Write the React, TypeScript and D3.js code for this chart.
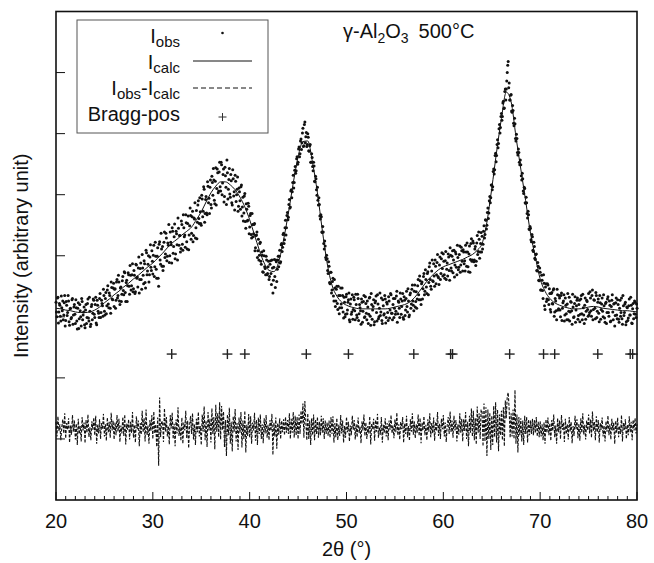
import React from 'react';
import * as d3 from 'd3';

const W = 654;
const H = 563;
const FONT = '"Liberation Sans", Arial, Helvetica, sans-serif';

// x axis
const xDomain = [20, 80];
const xMajorTicks = [20, 30, 40, 50, 60, 70, 80];
const xMinorStep = 1;
// y axis (arbitrary intensity units, unlabeled ticks)
const yDomain = [0, 800];
const yTicks = [100, 200, 300, 400, 500, 600, 700];

// Bragg reflection positions (2θ)
const braggPositions = [31.95, 37.7, 39.5, 45.85, 50.2, 56.95, 60.75, 60.95, 66.85, 70.35, 71.5, 75.95, 79.3, 79.55];
const braggLevel = 239;

// calculated profile, 2θ from 20 step 0.5
const calcStart = 20;
const calcStep = 0.5;
const calcValues = [
  314, 313, 311, 310, 308, 307, 307, 308, 311, 316,
  323, 329, 336, 342, 349, 355, 362, 368, 375, 382,
  388, 396, 404, 413, 421, 427, 434, 440, 447, 459,
  472, 488, 503, 514, 521, 521, 516, 508, 496, 480,
  459, 434, 409, 388, 376, 374, 390, 426, 470, 519,
  562, 587, 588, 552, 503, 442, 388, 352, 334, 324,
  319, 316, 314, 313, 313, 313, 313, 313, 313, 314,
  316, 318, 320, 324, 331, 341, 352, 362, 370, 377,
  382, 385, 388, 391, 394, 398, 402, 409, 420, 455,
  510, 570, 625, 668, 652, 595, 542, 490, 437, 398,
  362, 342, 330, 323, 319, 316, 314, 313, 313, 314,
  316, 317, 316, 314, 313, 312, 311, 310, 310, 309,
  308,
];

// observed intensities, 2θ from 20.00 step 0.1
const obsStart = 20;
const obsStep = 0.1;
const obsValues = [
  324, 300, 332, 308, 319, 293, 315, 326, 303, 335,
  294, 319, 307, 326, 286, 314, 299, 330, 303, 320,
  289, 315, 280, 323, 297, 310, 285, 325, 303, 316,
  282, 320, 299, 329, 293, 309, 288, 320, 306, 327,
  299, 332, 287, 319, 306, 330, 299, 327, 318, 345,
  309, 330, 305, 344, 321, 339, 314, 357, 329, 347,
  317, 346, 327, 361, 335, 357, 320, 349, 337, 366,
  336, 372, 325, 360, 351, 369, 337, 368, 351, 387,
  346, 368, 341, 385, 365, 380, 339, 379, 361, 402,
  368, 392, 356, 409, 369, 386, 357, 398, 381, 408,
  370, 417, 382, 399, 363, 413, 350, 423, 386, 411,
  415, 383, 439, 403, 429, 399, 417, 389, 439, 418,
  446, 404, 431, 395, 440, 418, 462, 417, 433, 412,
  451, 409, 446, 434, 467, 423, 453, 410, 449, 466,
  437, 473, 433, 460, 429, 474, 455, 490, 453, 472,
  450, 493, 473, 509, 469, 497, 467, 514, 494, 512,
  484, 530, 499, 524, 485, 544, 510, 536, 506, 553,
  506, 549, 519, 542, 497, 531, 484, 536, 509, 543,
  496, 523, 483, 526, 505, 532, 489, 509, 473, 511,
  490, 513, 465, 496, 470, 502, 445, 476, 458, 481,
  447, 469, 429, 451, 436, 453, 413, 434, 397, 427,
  401, 422, 386, 401, 373, 400, 379, 399, 369, 382,
  361, 386, 371, 393, 339, 381, 366, 393, 358, 393,
  382, 409, 390, 420, 414, 437, 426, 458, 446, 471,
  463, 492, 480, 508, 505, 532, 520, 546, 539, 562,
  553, 578, 567, 591, 585, 609, 580, 619, 595, 579,
  600, 572, 580, 553, 567, 546, 553, 522, 530, 508,
  512, 483, 484, 460, 464, 438, 439, 411, 416, 394,
  395, 371, 383, 354, 373, 344, 363, 326, 347, 326,
  350, 312, 335, 315, 347, 315, 335, 298, 324, 304,
  337, 311, 328, 295, 321, 304, 336, 312, 328, 295,
  320, 299, 330, 305, 315, 288, 324, 309, 335, 300,
  322, 295, 316, 304, 332, 286, 320, 311, 328, 292,
  326, 307, 336, 297, 314, 302, 331, 289, 318, 305,
  329, 299, 321, 294, 326, 311, 336, 306, 320, 299,
  330, 309, 342, 305, 324, 299, 329, 317, 338, 296,
  327, 311, 342, 308, 326, 303, 339, 321, 352, 319,
  342, 316, 341, 329, 361, 328, 359, 320, 357, 346,
  371, 342, 361, 338, 374, 356, 388, 350, 375, 359,
  387, 350, 383, 369, 402, 364, 385, 361, 395, 379,
  403, 369, 392, 361, 388, 403, 376, 413, 380, 399,
  372, 409, 385, 403, 369, 397, 381, 416, 385, 408,
  375, 406, 392, 417, 383, 406, 374, 416, 394, 428,
  393, 421, 393, 415, 391, 433, 407, 427, 406, 438,
  432, 419, 449, 435, 458, 450, 478, 470, 497, 495,
  516, 513, 542, 541, 568, 564, 590, 584, 615, 610,
  633, 628, 653, 642, 673, 673, 700, 718, 683, 655,
  664, 635, 638, 613, 616, 588, 592, 565, 569, 549,
  549, 524, 526, 502, 510, 486, 487, 462, 467, 443,
  445, 423, 431, 407, 415, 394, 403, 375, 383, 359,
  373, 344, 360, 330, 355, 312, 354, 329, 352, 320,
  338, 308, 340, 321, 346, 308, 326, 295, 336, 313,
  331, 300, 339, 314, 326, 293, 331, 305, 321, 295,
  332, 308, 324, 288, 316, 300, 333, 311, 327, 296,
  320, 292, 329, 305, 337, 303, 319, 296, 327, 312,
  338, 307, 331, 301, 344, 312, 327, 297, 335, 309,
  329, 292, 323, 312, 331, 300, 318, 291, 324, 307,
  333, 301, 319, 293, 327, 308, 321, 285, 323, 303,
  328, 296, 314, 301, 331, 288, 318, 307, 324, 292,
  315, 298, 329, 303, 319, 289, 322, 305, 324, 299,
  314,
];

// observed intensities, interleaved points, 2θ from 20.05 step 0.1
const obsStartB = 20.05;
const obsValuesB = [
  308, 331, 290, 322, 301, 334, 310, 295, 323, 285,
  325, 302, 335, 292, 313, 297, 328, 288, 316, 304,
  328, 293, 314, 281, 320, 300, 330, 295, 308, 287,
  311, 289, 322, 298, 332, 284, 317, 295, 329, 304,
  320, 290, 327, 309, 299, 338, 307, 322, 301, 335,
  303, 340, 318, 351, 315, 335, 306, 348, 328, 355,
  345, 314, 357, 331, 368, 326, 347, 325, 359, 343,
  374, 340, 356, 325, 372, 350, 384, 344, 369, 341,
  376, 338, 386, 363, 349, 398, 361, 388, 345, 380,
  354, 387, 347, 405, 375, 400, 369, 418, 376, 391,
  401, 366, 422, 378, 399, 363, 419, 393, 437, 383,
  376, 422, 397, 437, 392, 421, 451, 400, 422, 388,
  440, 415, 452, 403, 436, 393, 445, 433, 406, 457,
  419, 467, 431, 414, 454, 411, 465, 434, 478, 427,
  464, 423, 462, 487, 446, 428, 483, 461, 495, 453,
  499, 464, 513, 455, 492, 470, 521, 487, 469, 524,
  478, 520, 543, 491, 522, 483, 542, 503, 537, 513,
  553, 500, 533, 488, 545, 512, 557, 493, 525, 501,
  533, 487, 541, 498, 475, 522, 500, 529, 481, 505,
  476, 516, 480, 457, 498, 456, 485, 457, 486, 436,
  466, 435, 469, 431, 451, 408, 433, 439, 408, 393,
  420, 391, 406, 374, 408, 382, 369, 393, 371, 391,
  366, 392, 353, 380, 360, 394, 348, 390, 378, 399,
  399, 388, 418, 407, 435, 420, 446, 434, 466, 459,
  484, 478, 506, 495, 520, 511, 540, 535, 559, 550,
  575, 562, 588, 574, 601, 579, 615, 585, 602, 582,
  594, 571, 582, 553, 561, 539, 547, 521, 526, 499,
  491, 495, 465, 467, 439, 448, 420, 424, 397, 401,
  376, 390, 356, 373, 339, 358, 334, 361, 317, 345,
  322, 350, 305, 335, 321, 347, 308, 332, 300, 333,
  305, 324, 339, 292, 329, 308, 296, 332, 310, 337,
  303, 337, 294, 320, 310, 329, 291, 325, 299, 333,
  306, 326, 289, 331, 301, 338, 296, 317, 287, 323,
  334, 293, 321, 300, 339, 308, 294, 328, 303, 335,
  290, 324, 307, 333, 298, 338, 306, 295, 330, 314,
  304, 334, 291, 326, 314, 339, 304, 326, 299, 333,
  302, 330, 317, 346, 300, 336, 314, 345, 326, 310,
  352, 325, 314, 351, 336, 367, 328, 354, 329, 366,
  336, 377, 349, 371, 336, 382, 361, 345, 393, 358,
  367, 393, 354, 389, 366, 353, 398, 371, 405, 367,
  391, 363, 407, 378, 367, 398, 360, 401, 375, 408,
  393, 365, 406, 381, 417, 377, 402, 373, 414, 391,
  410, 387, 375, 406, 421, 382, 403, 373, 420, 391,
  424, 390, 411, 384, 421, 402, 439, 396, 420, 406,
  411, 440, 429, 459, 444, 471, 461, 490, 487, 516,
  508, 538, 534, 564, 554, 582, 577, 608, 601, 628,
  622, 650, 641, 669, 655, 686, 712, 675, 655, 663,
  637, 646, 617, 625, 592, 599, 569, 575, 553, 557,
  531, 535, 506, 512, 487, 496, 469, 473, 444, 448,
  426, 435, 409, 422, 396, 402, 376, 389, 360, 380,
  344, 368, 343, 369, 318, 349, 325, 354, 328, 346,
  312, 338, 322, 344, 301, 330, 310, 345, 311, 335,
  311, 335, 294, 323, 336, 303, 319, 295, 338, 309,
  293, 325, 310, 337, 299, 322, 291, 318, 331, 302,
  327, 304, 335, 295, 315, 289, 331, 309, 325, 301,
  303, 341, 310, 335, 295, 328, 314, 340, 299, 324,
  306, 335, 296, 321, 309, 336, 298, 322, 289, 329,
  307, 326, 292, 317, 336, 295, 322, 302, 331, 297,
  320, 291, 327, 307, 297, 335, 302, 321, 287, 316,
  294, 318, 303, 332, 290, 313, 297, 326, 304, 321,
];

// difference Iobs - Icalc, 2θ from 20 step 0.1, drawn around diffOffset
const diffOffset = 118;
const diffValues = [
  10, -14, 19, -5, 6, -20, 2, 14, -9, 24,
  -17, 8, -3, 16, -24, 4, -11, 21, -6, 12,
  -19, 7, -28, 15, -10, 3, -22, 18, -4, 9,
  -25, 13, -8, 22, -15, 1, -20, 11, -3, 17,
  -12, 20, -26, 5, -9, 14, -18, 8, -2, 23,
  -14, 6, -21, 17, -7, 10, -16, 25, -4, 12,
  -19, 9, -12, 21, -6, 15, -23, 4, -9, 18,
  -13, 22, -27, 7, -3, 14, -19, 10, -8, 26,
  -16, 5, -24, 19, -2, 12, -30, 8, -11, 28,
  -7, 16, -22, 30, -12, 4, -26, 13, -5, 21,
  -18, 27, -9, 6, -31, 17, -62, 50, -15, 9,
  11, -23, 32, -6, 18, -14, 3, -27, 21, -1,
  25, -18, 7, -30, 14, -9, 34, -13, 2, -21,
  17, -26, 9, -4, 28, -17, 12, -33, 5, 20,
  -10, 24, -19, 6, -28, 15, -7, 26, -14, 3,
  -28, 22, -6, 35, -20, 12, -31, 26, -4, 15,
  -24, 32, -10, 18, -35, 38, -6, 24, -15, 42,
  -19, 36, -3, 27, -31, 13, -46, 22, -12, 33,
  -26, 10, -38, 19, -6, 31, -22, 8, -36, 17,
  -8, 26, -32, 12, -18, 28, -40, 5, -13, 23,
  -16, 19, -26, 9, -4, 25, -21, 13, -28, 17,
  -10, 22, -18, 6, -25, 16, -9, 21, -16, 5,
  -20, 13, -5, 23, -44, 9, -14, 17, -34, 8,
  -11, 16, -18, 12, -7, 14, -12, 18, -8, 13,
  -10, 24, -18, 15, -8, 26, -16, 20, -12, 18,
  -18, 22, -10, 28, 6, 40, -16, 44, 10, -20,
  24, -18, 12, -28, 16, -12, 22, -20, 14, -10,
  18, -16, 10, -12, 20, -8, 16, -18, 12, -10,
  9, -13, 12, -16, 18, -10, 19, -24, 8, -15,
  16, -20, 5, -13, 21, -9, 12, -24, 3, -16,
  18, -7, 10, -22, 4, -12, 20, -3, 13, -19,
  6, -15, 17, -8, 2, -25, 11, -4, 22, -13,
  9, -18, 3, -9, 19, -27, 7, -2, 15, -21,
  13, -6, 23, -16, 1, -11, 18, -24, 5, -8,
  16, -14, 8, -20, 12, -3, 21, -9, 4, -17,
  14, -7, 25, -12, 6, -19, 10, -2, 18, -24,
  7, -10, 20, -15, 3, -21, 14, -6, 24, -11,
  11, -17, 6, -8, 22, -13, 16, -25, 9, -4,
  19, -12, 5, -20, 14, -6, 24, -15, 8, -9,
  17, -21, 10, -5, 26, -13, 7, -18, 15, -2,
  21, -14, 9, -23, 4, 18, -10, 27, -7, 12,
  -16, 20, -4, 13, -22, 6, -11, 24, -8, 15,
  -22, 14, -5, 26, -18, 10, -30, 20, -8, 32,
  -14, 28, -20, 16, -27, 35, -8, 24, -18, 30,
  26, -30, 40, -22, 34, -46, 30, -18, 25, -36,
  20, -28, 36, -15, 42, -24, 30, -38, 22, -12,
  28, -20, 34, -30, 45, 16, 52, 58, 30, -16,
  24, -14, 30, -18, 62, -26, 22, -40, 18, -12,
  16, -22, 12, -28, 20, -10, 18, -24, 14, -12,
  12, -10, 15, -12, 13, -8, 18, -14, 10, -15,
  11, -14, 6, -20, 9, -26, 14, -8, 17, -12,
  8, -21, 13, -5, 22, -15, 4, -26, 16, -7,
  12, -18, 21, -3, 9, -23, 15, -10, 6, -19,
  18, -6, 10, -25, 3, -13, 20, -2, 14, -17,
  7, -21, 16, -8, 24, -11, 5, -19, 12, -4,
  22, -9, 14, -16, 27, -5, 10, -20, 19, -7,
  13, -24, 8, -3, 17, -14, 4, -22, 11, -6,
  20, -12, 6, -19, 15, -4, 9, -26, 12, -8,
  17, -15, 3, -10, 21, -22, 8, -3, 14, -18,
  5, -12, 19, -7, 10, -20, 13, -4, 16, -9,
  6,
];

const margin = { left: 56, right: 17, top: 11.5, bottom: 63 };

export default function App() {
  const x = d3.scaleLinear().domain(xDomain).range([margin.left, W - margin.right]);
  const y = d3.scaleLinear().domain(yDomain).range([H - margin.bottom, margin.top]);
  const x0 = x.range()[0], x1 = x.range()[1];
  const yb = y.range()[0], yt = y.range()[1];

  const calcLine = d3
    .line<number>()
    .x((_, i) => x(calcStart + i * calcStep))
    .y((d) => y(d))
    .curve(d3.curveMonotoneX);

  const diffLine = d3
    .line<number>()
    .x((_, i) => x(obsStart + i * obsStep))
    .y((d) => y(diffOffset + d));

  const minorTicks = d3.range(xDomain[0], xDomain[1] + 0.001, xMinorStep);

  const legendX = 77, legendY = 20, legendW = 191, legendH = 113;
  const legTextX = 180;
  const legSymX0 = 193, legSymX1 = 252;
  const rows = [43, 69, 95, 121];

  return (
    <svg width={W} height={H} style={{ position: 'absolute', left: 0, top: 0, background: '#fff' }} fontFamily={FONT}>
      <rect x={0} y={0} width={W} height={H} fill="#fff" />
      {/* difference curve */}
      <path d={diffLine(diffValues) || ''} fill="none" stroke="#111" strokeWidth={1.1} strokeDasharray="3,1.5" />
      {/* observed points */}
      <g fill="#111">
        {obsValues.map((v, i) => (
          <circle key={'a' + i} cx={x(obsStart + i * obsStep)} cy={y(v)} r={1.5} />
        ))}
        {obsValuesB.map((v, i) => (
          <circle key={'b' + i} cx={x(obsStartB + i * obsStep)} cy={y(v)} r={1.5} />
        ))}
      </g>
      {/* calculated */}
      <path d={calcLine(calcValues) || ''} fill="none" stroke="#111" strokeWidth={1} />
      {/* Bragg positions */}
      <g stroke="#222" strokeWidth={1.4}>
        {braggPositions.map((p, i) => (
          <g key={i}>
            <line x1={x(p) - 5} x2={x(p) + 5} y1={y(braggLevel)} y2={y(braggLevel)} />
            <line x1={x(p)} x2={x(p)} y1={y(braggLevel) - 5} y2={y(braggLevel) + 5} />
          </g>
        ))}
      </g>
      {/* frame */}
      <rect x={x0} y={yt} width={x1 - x0} height={yb - yt} fill="none" stroke="#111" strokeWidth={1.6} />
      {/* ticks */}
      <g stroke="#111" strokeWidth={1}>
        {minorTicks.map((t) => (
          <line key={t} x1={x(t)} x2={x(t)} y1={yb} y2={yb - (t % 10 === 0 ? 8 : 4)} />
        ))}
        {yTicks.map((t) => (
          <line key={t} x1={x0} x2={x0 + 9} y1={y(t)} y2={y(t)} />
        ))}
      </g>
      <g fontSize={20} fill="#111" textAnchor="middle">
        {xMajorTicks.map((t) => (
          <text key={t} x={x(t)} y={528}>{t}</text>
        ))}
      </g>
      <text x={(x0 + x1) / 2} y={556} fontSize={20} textAnchor="middle" fill="#111">2θ (°)</text>
      <text transform={`translate(28,${(yb + yt) / 2}) rotate(-90)`} fontSize={20} textAnchor="middle" fill="#111">
        Intensity (arbitrary unit)
      </text>
      {/* title */}
      <text x={343} y={38} fontSize={20} fill="#111">
        γ-Al<tspan fontSize={14} dy={5}>2</tspan>
        <tspan dy={-5}>O</tspan>
        <tspan fontSize={14} dy={5}>3</tspan>
        <tspan dy={-5} dx={10}>500°C</tspan>
      </text>
      {/* legend */}
      <rect x={legendX} y={legendY} width={legendW} height={legendH} fill="#fff" stroke="#555" strokeWidth={1} />
      <g fontSize={20} fill="#111" textAnchor="end">
        <text x={legTextX} y={rows[0]}>I<tspan fontSize={15} dy={4}>obs</tspan></text>
        <text x={legTextX} y={rows[1]}>I<tspan fontSize={15} dy={4}>calc</tspan></text>
        <text x={legTextX} y={rows[2]}>
          I<tspan fontSize={15} dy={4}>obs</tspan>
          <tspan dy={-4}>-I</tspan>
          <tspan fontSize={15} dy={4}>calc</tspan>
        </text>
        <text x={legTextX} y={rows[3]}>Bragg-pos</text>
      </g>
      <circle cx={(legSymX0 + legSymX1) / 2} cy={rows[0] - 10} r={1.3} fill="#111" />
      <line x1={legSymX0} x2={legSymX1} y1={rows[1] - 8} y2={rows[1] - 8} stroke="#111" strokeWidth={1} />
      <line x1={legSymX0} x2={legSymX1} y1={rows[2] - 7} y2={rows[2] - 7} stroke="#111" strokeWidth={1} strokeDasharray="5,3" />
      <g stroke="#333" strokeWidth={1}>
        <line x1={(legSymX0 + legSymX1) / 2 - 4} x2={(legSymX0 + legSymX1) / 2 + 4} y1={rows[3] - 4} y2={rows[3] - 4} />
        <line x1={(legSymX0 + legSymX1) / 2} x2={(legSymX0 + legSymX1) / 2} y1={rows[3] - 8} y2={rows[3]} />
      </g>
    </svg>
  );
}
